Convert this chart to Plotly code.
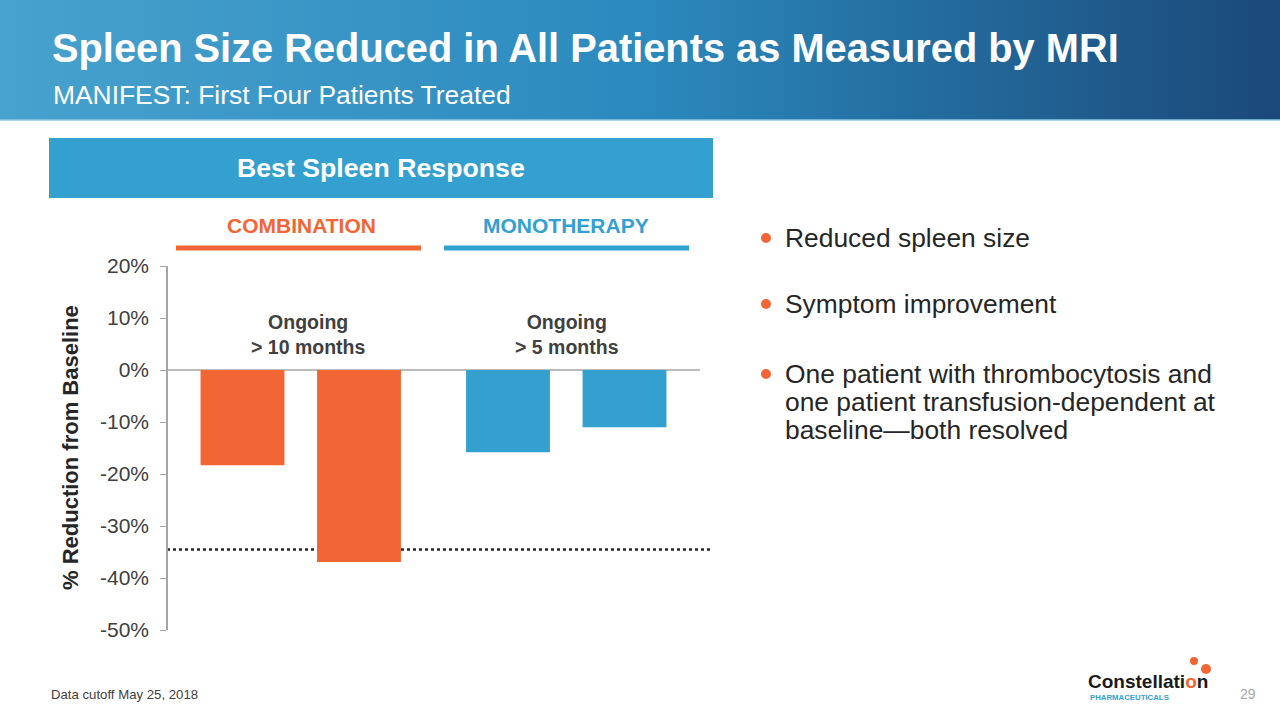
import plotly.graph_objects as go

# ---------------- data ----------------
combo_patients = ["C1", "C2"]
combo_values = [-18.3, -36.9]
mono_patients = ["M1", "M2"]
mono_values = [-15.8, -11.0]
threshold = -34.5
y_ticks = [20, 10, 0, -10, -20, -30, -40, -50]
y_tick_labels = ["20%", "10%", "0%", "-10%", "-20%", "-30%", "-40%", "-50%"]
bullets = [
    ["Reduced spleen size"],
    ["Symptom improvement"],
    ["One patient with thrombocytosis and",
     "one patient transfusion-dependent at",
     "baseline\u2014both resolved"],
]

W, H = 1280, 720
ORANGE = "#F26535"
BLUE = "#33A0CF"
FONT = "Arial, Liberation Sans, sans-serif"


def px(x):
    return x / W


def py(y):
    return 1 - y / H


fig = go.Figure()
fig.add_trace(go.Bar(x=combo_patients, y=combo_values, marker_color=ORANGE,
                     marker_line_width=0, xaxis="x", yaxis="y", hoverinfo="y"))
fig.add_trace(go.Bar(x=mono_patients, y=mono_values, marker_color=BLUE,
                     marker_line_width=0, xaxis="x2", yaxis="y", hoverinfo="y"))

shapes = []
# header gradient
n = 80
c0 = (72, 162, 206)
c1 = (44, 138, 190)
c2 = (27, 74, 122)
for i in range(n):
    t = i / (n - 1)
    if t < 0.5:
        u = t / 0.5
        c = tuple(int(c0[k] + (c1[k] - c0[k]) * u) for k in range(3))
    else:
        u = (t - 0.5) / 0.5
        c = tuple(int(c1[k] + (c2[k] - c1[k]) * u) for k in range(3))
    shapes.append(dict(type="rect", xref="paper", yref="paper",
                       x0=i / n, x1=(i + 1) / n + 0.002, y0=py(120), y1=1,
                       fillcolor="rgb(%d,%d,%d)" % c, line_width=0, layer="below"))
shapes.append(dict(type="line", xref="paper", yref="paper", x0=0, x1=1,
                   y0=py(120), y1=py(120), line=dict(color="#8cc8e6", width=1.5)))
# box
shapes.append(dict(type="rect", xref="paper", yref="paper", x0=px(49), x1=px(713),
                   y0=py(198), y1=py(138), fillcolor=BLUE, line_width=0, layer="below"))
# group header lines
shapes.append(dict(type="line", xref="paper", yref="paper", x0=px(176), x1=px(421),
                   y0=py(248), y1=py(248), line=dict(color=ORANGE, width=5)))
shapes.append(dict(type="line", xref="paper", yref="paper", x0=px(444), x1=px(689),
                   y0=py(248), y1=py(248), line=dict(color=BLUE, width=5)))
# zero line
shapes.append(dict(type="line", xref="paper", yref="y", x0=px(167), x1=px(700),
                   y0=0, y1=0, line=dict(color="#a6a6a6", width=1.5), layer="below"))
# threshold dotted line
shapes.append(dict(type="line", xref="paper", yref="y", x0=px(167), x1=px(710),
                   y0=threshold, y1=threshold, line=dict(color="#262626", width=2.5, dash="dot"),
                   layer="below"))
# bullet dots
bullet_y = [238, 304, 374]
line_step = 28
for yy in bullet_y:
    shapes.append(dict(type="circle", xref="paper", yref="paper",
                       x0=px(761), x1=px(771), y0=py(yy + 5), y1=py(yy - 5),
                       fillcolor=ORANGE, line_width=0))
# logo dots
for cx, cy, r in [(1194, 661, 4), (1206, 669, 5)]:
    shapes.append(dict(type="circle", xref="paper", yref="paper",
                       x0=px(cx - r), x1=px(cx + r), y0=py(cy + r), y1=py(cy - r),
                       fillcolor=ORANGE, line_width=0))

ann = []
ann.append(dict(text="<b>Spleen Size Reduced in All Patients as Measured by MRI</b>",
                x=px(50), y=py(48), xanchor="left", yanchor="middle",
                font=dict(size=39.8, color="white", family=FONT)))
ann.append(dict(text="MANIFEST: First Four Patients Treated",
                x=px(51), y=py(95), xanchor="left", yanchor="middle",
                font=dict(size=26.4, color="white", family=FONT)))
ann.append(dict(text="<b>Best Spleen Response</b>", x=px(381), y=py(168),
                xanchor="center", yanchor="middle",
                font=dict(size=26.7, color="white", family=FONT)))
ann.append(dict(text="<b>COMBINATION</b>", x=px(301), y=py(225),
                xanchor="center", yanchor="middle",
                font=dict(size=21, color=ORANGE, family=FONT)))
ann.append(dict(text="<b>MONOTHERAPY</b>", x=px(566), y=py(225),
                xanchor="center", yanchor="middle",
                font=dict(size=21, color=BLUE, family=FONT)))
ann.append(dict(text="<b>Ongoing<br>> 10 months</b>", x=px(308), y=py(334),
                xanchor="center", yanchor="middle",
                font=dict(size=19.5, color="#404040", family=FONT)))
ann.append(dict(text="<b>Ongoing<br>> 5 months</b>", x=px(567), y=py(334),
                xanchor="center", yanchor="middle",
                font=dict(size=19.5, color="#404040", family=FONT)))
ann.append(dict(text="<b>% Reduction from Baseline</b>", x=px(70), y=py(448),
                xanchor="center", yanchor="middle", textangle=-90,
                font=dict(size=22, color="#262626", family=FONT)))
# bullets
for lines, yy in zip(bullets, bullet_y):
    for j, ln in enumerate(lines):
        ann.append(dict(text=ln, x=px(783), y=py(yy + j * line_step), xanchor="left",
                        yanchor="middle", align="left",
                        font=dict(size=26.4, color="#262626", family=FONT)))
ann.append(dict(text="Data cutoff May 25, 2018", x=px(49), y=py(694),
                xanchor="left", yanchor="middle",
                font=dict(size=13.2, color="#404040", family=FONT)))
ann.append(dict(text="29", x=px(1248), y=py(694), xanchor="center", yanchor="middle",
                font=dict(size=14, color="#a6a6a6", family=FONT)))
ann.append(dict(text="<b>Constellati<span style='color:#F26535'>o</span>n</b>",
                x=px(1086), y=py(681), xanchor="left",
                yanchor="middle", font=dict(size=19, color="#1a1a1a", family=FONT)))
ann.append(dict(text="<b>PHARMACEUTICALS</b>", x=px(1088), y=py(697), xanchor="left",
                yanchor="middle", font=dict(size=7.8, color=BLUE, family=FONT)))
for a in ann:
    a.update(xref="paper", yref="paper", showarrow=False)

fig.update_layout(
    width=W, height=H, autosize=False,
    margin=dict(l=0, r=0, t=0, b=0, pad=0, autoexpand=False),
    paper_bgcolor="white", plot_bgcolor="rgba(0,0,0,0)",
    showlegend=False, bargap=0.28,
    font=dict(family=FONT),
    xaxis=dict(domain=[px(184.25), px(417.25)], anchor="y", visible=False),
    xaxis2=dict(domain=[px(449.75), px(682.75)], anchor="y", visible=False),
    yaxis=dict(domain=[py(630), py(266)], range=[-50, 20], anchor="free",
               position=px(167), tickvals=y_ticks, ticktext=y_tick_labels,
               showgrid=False, zeroline=False, showline=True, linecolor="#a6a6a6",
               linewidth=1.5, ticks="outside", ticklen=6, tickcolor="#a6a6a6",
               automargin=False, ticklabelstandoff=7,
               tickfont=dict(size=21, color="#404040", family=FONT)),
    shapes=shapes, annotations=ann,
)

fig.write_html("out.html", config={"displayModeBar": False},
               post_script="document.body.style.margin='0';")
